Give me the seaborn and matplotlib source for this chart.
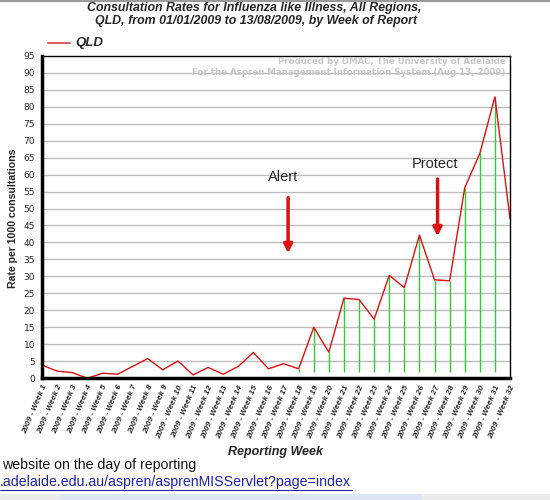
import matplotlib
matplotlib.use("Agg")
import matplotlib.pyplot as plt
import seaborn as sns
import pandas as pd
from matplotlib.patches import Rectangle

weeks = list(range(1, 33))
week_labels = [f"2009 - Week {w}" for w in weeks]
qld_rate = [3.9, 2.1, 1.7, 0.0, 1.5, 1.2, 3.5, 5.8, 2.5, 5.1, 1.0, 3.2, 1.2, 3.5, 7.6, 2.8,
            4.3, 2.8, 15.0, 7.7, 23.6, 23.2, 17.4, 30.3, 26.7, 42.2, 29.0, 28.7, 56.1, 66.2,
            82.9, 47.0]
drop_weeks = list(range(18, 32))
series_name = "QLD"

df = pd.DataFrame({"week": weeks, "rate": qld_rate, "region": series_name})

sns.set_style("white")
plt.rcParams["font.family"] = ["DejaVu Sans"]

lib = ["Liberation Sans", "DejaVu Sans"]

fig = plt.figure(figsize=(5.5, 5.0), dpi=100)
ax = fig.add_axes([0.0764, 0.2434, 0.8509, 0.6452])

# horizontal gridlines
for yv in range(5, 95, 5):
    ax.axhline(yv, color="#bdbdbd", lw=1.0, zorder=0)

# green drop lines
drop_vals = [qld_rate[w - 1] for w in drop_weeks]
ax.vlines(drop_weeks, 2.0, drop_vals, colors="#33cc33", lw=1.0, zorder=1)

sns.lineplot(data=df, x="week", y="rate", color="#e01010", lw=1.0, ax=ax,
             legend=False, zorder=2)

ax.set_xlim(1, 32)
ax.set_ylim(0, 95)
ax.set_yticks(range(0, 96, 5))
ax.set_yticklabels([str(v) for v in range(0, 96, 5)], fontsize=6.5)
ax.set_xticks(weeks)
ax.set_xticklabels(week_labels, rotation=67, ha="right", rotation_mode="anchor",
                   fontsize=5.8, fontweight="bold", fontstyle="italic", family=lib)
ax.tick_params(axis="both", direction="out", length=3, width=1, color="black", pad=2)
ax.tick_params(axis="x", pad=1)
ax.set_xlabel("")
ax.set_ylabel("")

for side in ["left", "bottom"]:
    ax.spines[side].set_linewidth(2.5)
for side in ["top", "right"]:
    ax.spines[side].set_linewidth(1.0)
for s in ax.spines.values():
    s.set_color("black")

# annotations
ax.text(17.0, 59.4, "Alert", fontsize=10.5, ha="center", va="center", family=lib)
ax.annotate("", xy=(17.3, 36.0), xytext=(17.3, 54.0),
            arrowprops=dict(arrowstyle="-|>,head_length=0.5,head_width=0.25",
                            color="#dd1111", lw=2.5))
ax.text(27.0, 63.1, "Protect", fontsize=10.5, ha="center", va="center", family=lib)
ax.annotate("", xy=(27.2, 41.0), xytext=(27.2, 59.5),
            arrowprops=dict(arrowstyle="-|>,head_length=0.5,head_width=0.25",
                            color="#dd1111", lw=2.5))

# watermark
ax.text(31.7, 93.2, "Produced by DMAC, The University of Adelaide",
        ha="right", va="center", fontsize=6.2, fontweight="bold", color="#c8c8c8")
ax.text(31.7, 90.0, "For the Aspren Management Information System (Aug 13, 2009)",
        ha="right", va="center", fontsize=6.2, fontweight="bold", color="#c8c8c8")

# title
fig.text(254 / 550, 1 - 8.5 / 500, "Consultation Rates for Influenza like Illness, All Regions,",
         ha="center", va="center", fontsize=8.9, fontweight="bold", fontstyle="italic",
         family=lib)
fig.text(256 / 550, 1 - 21 / 500, "QLD, from 01/01/2009 to 13/08/2009, by Week of Report",
         ha="center", va="center", fontsize=8.9, fontweight="bold", fontstyle="italic",
         family=lib)

# legend
fig.add_artist(plt.Line2D([48 / 550, 70 / 550], [1 - 43 / 500, 1 - 43 / 500],
                          color="#e06070", lw=1.5, transform=fig.transFigure))
fig.text(75 / 550, 1 - 43 / 500, series_name, ha="left", va="center", fontsize=9.5,
         fontweight="bold", fontstyle="italic", family=lib)

# axis labels
fig.text(13 / 550, 1 - 218 / 500, "Rate per 1000 consultations", rotation=90,
         ha="center", va="center", fontsize=7.6, fontweight="bold", family=lib)
fig.text(275 / 550, 1 - 452 / 500, "Reporting Week", ha="center", va="center",
         fontsize=9, fontweight="bold", fontstyle="italic", family=lib)

# page text below
fig.text(2 / 550, 1 - 465 / 500, "website on the day of reporting", ha="left",
         va="center", fontsize=10.2, family=lib, color="#111111")
fig.text(0, 1 - 482 / 500, ".adelaide.edu.au/aspren/asprenMISServlet?page=index",
         ha="left", va="center", fontsize=10.2, family=lib, color="#2020a8")
fig.add_artist(plt.Line2D([0, 352 / 550], [1 - 490 / 500, 1 - 490 / 500],
                          color="#2020a8", lw=0.8, transform=fig.transFigure))

# browser bar at bottom
fig.add_artist(Rectangle((0, 0), 1, 6 / 500, transform=fig.transFigure,
                         facecolor="#ececec", edgecolor="none"))
fig.add_artist(Rectangle((60 / 550, 0), 362 / 550, 6 / 500, transform=fig.transFigure,
                         facecolor="#dde6f6", edgecolor="none"))
fig.add_artist(plt.Line2D([0, 1], [0.999, 0.999], color="#9a9a9a", lw=1.5,
                          transform=fig.transFigure))

fig.savefig("out.png", dpi=100)
